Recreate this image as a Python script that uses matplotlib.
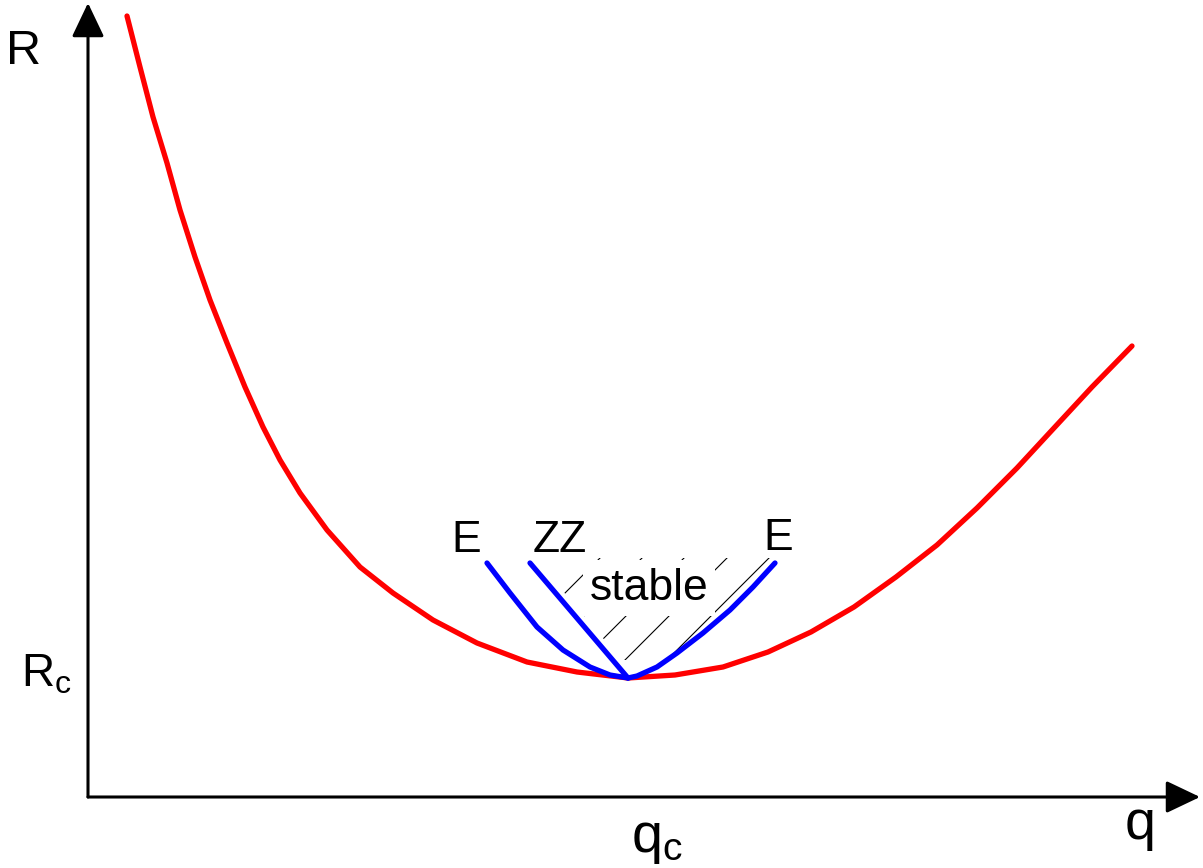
import matplotlib.pyplot as plt
import matplotlib.patches as mpatches
import numpy as np

# Red stability boundary R(q) (axis units)
red_q = [0.39, 0.52, 0.65, 0.79, 0.92, 1.07, 1.22, 1.39, 1.57, 1.75, 1.92,
         2.12, 2.39, 2.72, 3.05, 3.45, 3.89, 4.39, 4.89, 5.40, 5.87, 6.35,
         6.80, 7.23, 7.66, 8.08, 8.49, 8.89, 9.29, 9.66, 10.04, 10.44]
red_R = [7.81, 7.30, 6.80, 6.34, 5.87, 5.40, 4.97, 4.54, 4.10, 3.70, 3.37,
         3.04, 2.67, 2.30, 2.04, 1.77, 1.54, 1.35, 1.25, 1.19, 1.22, 1.30,
         1.45, 1.65, 1.90, 2.20, 2.52, 2.89, 3.29, 3.69, 4.10, 4.51]

# Blue instability curves near the critical point
eck_left_q = [3.99, 4.22, 4.49, 4.75, 5.02, 5.22, 5.40]
eck_left_R = [2.34, 2.04, 1.70, 1.47, 1.30, 1.22, 1.19]
zz_q = [4.42, 5.40]
zz_R = [2.34, 1.19]
eck_right_q = [5.40, 5.49, 5.69, 5.89, 6.15, 6.42, 6.65, 6.87]
eck_right_R = [1.19, 1.21, 1.30, 1.44, 1.64, 1.87, 2.10, 2.34]

# Critical point and hatching of the stable band (lines q - R = offset)
q_c, R_c = 5.40, 1.19
hatch_offsets = [2.73, 3.15, 3.57, 4.00, 4.42]
hatch_top, hatch_floor, hatch_gap = 2.39, 1.37, 0.09

# Axis extents (arrow tips)
q_max, R_max = 11.12, 7.94


def q_at(q, R, r):
    """q on a straight/monotonic curve at height r, extrapolating past the ends"""
    order = np.argsort(R)
    q, R = np.asarray(q)[order], np.asarray(R)[order]
    if r > R[-1]:
        return q[-1] + (q[-1] - q[-2]) / (R[-1] - R[-2]) * (r - R[-1])
    return np.interp(r, R, q)


fig = plt.figure(figsize=(12.03, 8.68), dpi=100)
plt.rcParams["font.family"] = ["Liberation Sans", "DejaVu Sans"]
ax = fig.add_axes([0, 0, 1, 1])
ax.set_xlim(-0.88, 11.15)
ax.set_ylim(-0.71, 7.97)
ax.axis("off")

# Axes with arrow heads
arrow = dict(arrowstyle="-|>,head_length=2.1,head_width=1.0", color="black",
             lw=2.2, shrinkA=0, shrinkB=0, mutation_scale=10)
ax.annotate("", xy=(q_max, 0), xytext=(0, 0), arrowprops=arrow)
ax.annotate("", xy=(0, R_max), xytext=(0, 0), arrowprops=arrow)

# Hatched stable region between ZZ and right Eckhaus curve
right_R = [hatch_floor] + [r for r in eck_right_R if r > hatch_floor] + [hatch_top]
verts = [(q_at(zz_q, zz_R, hatch_top) + hatch_gap, hatch_top),
         (q_at(zz_q, zz_R, hatch_floor) + hatch_gap, hatch_floor)]
verts += [(q_at(eck_right_q, eck_right_R, r), r) for r in right_R]
region = mpatches.Polygon(verts, closed=True, facecolor="none",
                          edgecolor="none", transform=ax.transData)
ax.add_patch(region)
r_span = np.array([0.0, 3.5])
for off in hatch_offsets:
    (ln,) = ax.plot(r_span + off, r_span, color="black", lw=0.8, zorder=1)
    ln.set_clip_path(region)

# Curves
ax.plot(red_q, red_R, color="red", lw=3.8, zorder=3,
        solid_capstyle="round", solid_joinstyle="round")
for q, R in [(eck_left_q, eck_left_R), (zz_q, zz_R), (eck_right_q, eck_right_R)]:
    ax.plot(q, R, color="blue", lw=3.8, zorder=4,
            solid_capstyle="round", solid_joinstyle="round")

# Labels
ax.text(-0.64, 7.46, "R", fontsize=35, ha="center", va="center")
ax.text(10.52, -0.28, "q", fontsize=40, ha="center", va="center")
ax.text(-0.16, R_c + 0.03, r"$\mathregular{R_c}$", fontsize=33,
        ha="right", va="center")
ax.text(q_c + 0.03, -0.43, r"$\mathregular{q_c}$", fontsize=40,
        ha="left", va="center")
ax.text(3.78, 2.56, "E", fontsize=32, ha="center", va="center")
ax.text(4.72, 2.56, "ZZ", fontsize=32, ha="center", va="center")
ax.text(6.90, 2.58, "E", fontsize=32, ha="center", va="center")
ax.text(5.61, 2.09, "stable", fontsize=32, ha="center", va="center", zorder=2,
        bbox=dict(boxstyle="square,pad=0.16", facecolor="white",
                  edgecolor="none"))

fig.savefig("out.png", dpi=100)
